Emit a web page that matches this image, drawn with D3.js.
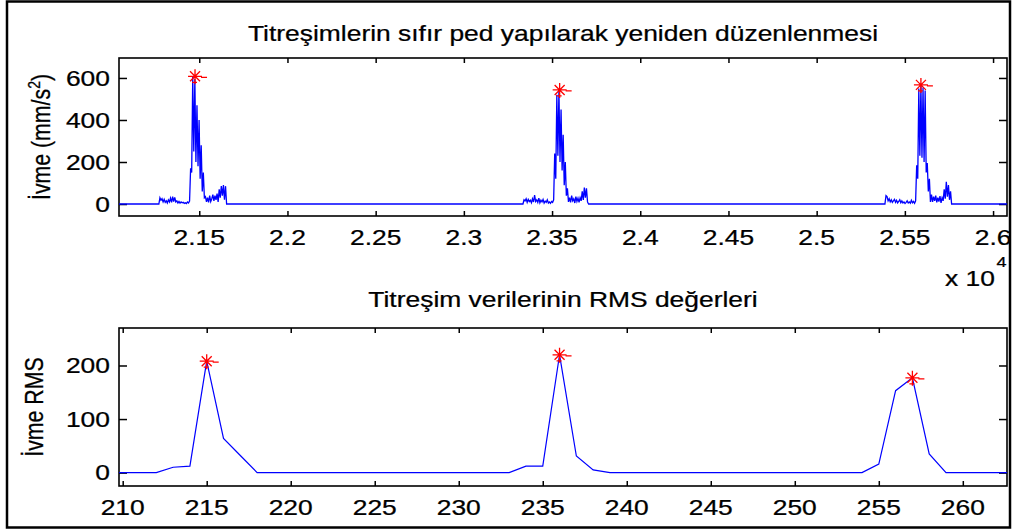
<!DOCTYPE html>
<html>
<head>
<meta charset="utf-8">
<script src="https://cdn.jsdelivr.net/npm/d3@7/dist/d3.min.js"></script>
<style>
body { margin: 0; background: #fff; }
text { font-family: "Liberation Sans", Arial, sans-serif; fill: #000; }
</style>
</head>
<body>
<svg id="chart" width="1014" height="532"></svg>
<script>
// ---- top plot: zero padded vibration signal (sample index, mm/s^2)
var topTicks = [21500, 22000, 22500, 23000, 23500, 24000, 24500, 25000, 25500, 26000];
var topTickLabels = ["2.15", "2.2", "2.25", "2.3", "2.35", "2.4", "2.45", "2.5", "2.55", "2.6"];
var topYTicks = [0, 200, 400, 600];
var burstStarts = [21277, 23341, 25393];
var sampleStep = 6;
var burst1 = [30,18,25,10,22,8,15,5,20,10,28,8,35,12,32,10,15,5,12,4,10,6,8,3,6,2,10,5,14,
  170,150,605,250,595,200,470,180,400,120,280,60,150,30,
  35,10,30,8,40,12,25,45,15,40,20,50,10,70,30,85,40,90,20,85];
var burst2 = [20,15,25,8,22,12,18,6,25,10,43,12,20,8,28,6,18,10,22,5,14,8,20,5,10,3,12,8,20,
  240,120,520,230,540,200,450,160,330,90,200,40,75,10,
  30,8,40,15,25,5,35,12,28,8,30,15,60,20,78,30,75,10];
var burst3 = [40,35,15,25,10,20,8,15,22,8,18,5,12,20,6,15,5,10,3,8,15,5,10,4,18,6,12,3,15,
  185,120,550,230,565,220,555,200,540,150,195,60,120,10,
  45,10,35,15,40,8,30,12,38,5,30,15,70,25,106,35,90,20,60];
var topPeakX = [21476, 23543, 25591];
var topPeakY = [608, 543, 567];

// ---- bottom plot: RMS per window
var rmsTicks = [210, 215, 220, 225, 230, 235, 240, 245, 250, 255, 260];
var rmsYTicks = [0, 100, 200];
var rmsStart = 209;
var rmsValues = [0, 0,0,0,10,12,208,64,32,0,0, 0,0,0,0,0,0,0,0,0,0, 0,0,0,0,12,12,220,31,5,0,
  0,0,0,0,0,0,0,0,0,0, 0,0,0,0,0,16,153,177,35,0, 0,0,0,0];
var rmsPeakX = [215, 236, 257];
var rmsPeakY = [208, 220, 177];

var sx = 1.24; // text looks stretched sideways in the picture
var fs = 21.3;

var svg = d3.select("#chart");

svg.append("rect")
  .attr("x", 7).attr("y", 1.5).attr("width", 1003).attr("height", 526)
  .attr("fill", "none").attr("stroke", "#000").attr("stroke-width", 2.5);

var topBox = {l: 119, r: 1007, t: 58, b: 216};
var botBox = {l: 119, r: 1007, t: 328, b: 486};

var xTop = d3.scaleLinear().domain([21045, 26079]).range([topBox.l, topBox.r]);
var yTop = d3.scaleLinear().domain([-57, 695]).range([topBox.b, topBox.t]);
var xBot = d3.scaleLinear().domain([209.78, 262.63]).range([botBox.l, botBox.r]);
var yBot = d3.scaleLinear().domain([-25, 270]).range([botBox.b, botBox.t]);

function addText(g, str, x, y, anchor, size, rot) {
  var t = g.append("text")
    .attr("text-anchor", anchor)
    .attr("font-size", size)
    .attr("stroke", "#000").attr("stroke-width", 0.25)
    .attr("transform", "translate(" + x + "," + y + ") scale(" + sx + ",1)" + (rot ? " rotate(" + rot + ")" : ""));
  if (str !== null) t.text(str);
  return t;
}

function drawAxes(box, xs, ys, xticks, xlabels, yticks, clipId) {
  var g = svg.append("g");
  // inward ticks on all four sides
  g.append("g").attr("transform", "translate(0," + box.b + ")")
    .call(d3.axisBottom(xs).tickValues(xticks).tickSizeInner(-5).tickSizeOuter(0).tickFormat(""));
  g.append("g").attr("transform", "translate(0," + box.t + ")")
    .call(d3.axisTop(xs).tickValues(xticks).tickSizeInner(-5).tickSizeOuter(0).tickFormat(""));
  g.append("g").attr("transform", "translate(" + box.l + ",0)")
    .call(d3.axisLeft(ys).tickValues(yticks).tickSizeInner(-8).tickSizeOuter(0).tickFormat(""));
  g.append("g").attr("transform", "translate(" + box.r + ",0)")
    .call(d3.axisRight(ys).tickValues(yticks).tickSizeInner(-8).tickSizeOuter(0).tickFormat(""));
  g.selectAll(".domain").remove();
  g.selectAll(".tick line").attr("stroke", "#000").attr("stroke-width", 1.5);

  g.append("rect")
    .attr("x", box.l).attr("y", box.t)
    .attr("width", box.r - box.l).attr("height", box.b - box.t)
    .attr("fill", "none").attr("stroke", "#000").attr("stroke-width", 1.6);

  xticks.forEach(function(v, i) {
    addText(g, xlabels[i], xs(v), box.b + 29, "middle", fs);
  });
  yticks.forEach(function(v) {
    addText(g, String(v), box.l - 9, ys(v) + 7.6, "end", fs);
  });

  svg.append("clipPath").attr("id", clipId)
    .append("rect")
    .attr("x", box.l).attr("y", box.t)
    .attr("width", box.r - box.l).attr("height", box.b - box.t);
  return g;
}

function star(g, x, y) {
  g.append("path")
    .attr("transform", "translate(" + x + "," + y + ")")
    .attr("d", "M-7,0H7M0,-7V8M-5,-5L5,5M-5,5L5,-5M6,1H12M-3,6H2")
    .attr("fill", "none").attr("stroke", "#ff0000").attr("stroke-width", 1.3);
}

// ---------- top plot
var gTop = drawAxes(topBox, xTop, yTop, topTicks, topTickLabels, topYTicks, "clipTop");

var topPoints = [[xTop.domain()[0], 0]];
[burst1, burst2, burst3].forEach(function(b, k) {
  var s = burstStarts[k];
  topPoints.push([s - sampleStep, 0]);
  b.forEach(function(v, i) { topPoints.push([s + i * sampleStep, v]); });
  topPoints.push([s + b.length * sampleStep, 0]);
});
topPoints.push([xTop.domain()[1], 0]);

var lineTop = d3.line().x(function(d) { return xTop(d[0]); }).y(function(d) { return yTop(d[1]); });
svg.append("path")
  .datum(topPoints)
  .attr("clip-path", "url(#clipTop)")
  .attr("d", lineTop)
  .attr("fill", "none").attr("stroke", "#0000ff").attr("stroke-width", 1.3);

topPeakX.forEach(function(v, i) { star(svg, xTop(v), yTop(topPeakY[i])); });

addText(svg, "Titreşimlerin sıfır ped yapılarak yeniden düzenlenmesi", (topBox.l + topBox.r) / 2, 40.5, "middle", fs);

var yl = addText(svg, null, 50, (topBox.t + topBox.b) / 2, "middle", fs, -90);
yl.append("tspan").text("İvme (mm/s");
yl.append("tspan").attr("font-size", 14).attr("dy", -8).text("2");
yl.append("tspan").attr("dy", 8).text(")");

var mult = addText(svg, null, 995, 286, "end", fs);
mult.text("x 10");
addText(svg, "4", 996.5, 267, "start", 14.5);

// ---------- bottom plot
var gBot = drawAxes(botBox, xBot, yBot, rmsTicks, rmsTicks.map(String), rmsYTicks, "clipBot");

var lineBot = d3.line().x(function(d, i) { return xBot(rmsStart + i); }).y(function(d) { return yBot(d); });
svg.append("path")
  .datum(rmsValues)
  .attr("clip-path", "url(#clipBot)")
  .attr("d", lineBot)
  .attr("fill", "none").attr("stroke", "#0000ff").attr("stroke-width", 1.2);

rmsPeakX.forEach(function(v, i) { star(svg, xBot(v), yBot(rmsPeakY[i])); });

addText(svg, "Titreşim verilerinin RMS değerleri", (botBox.l + botBox.r) / 2, 307, "middle", fs);
addText(svg, "İvme RMS", 43, (botBox.t + botBox.b) / 2, "middle", fs, -90);
</script>
</body>
</html>
